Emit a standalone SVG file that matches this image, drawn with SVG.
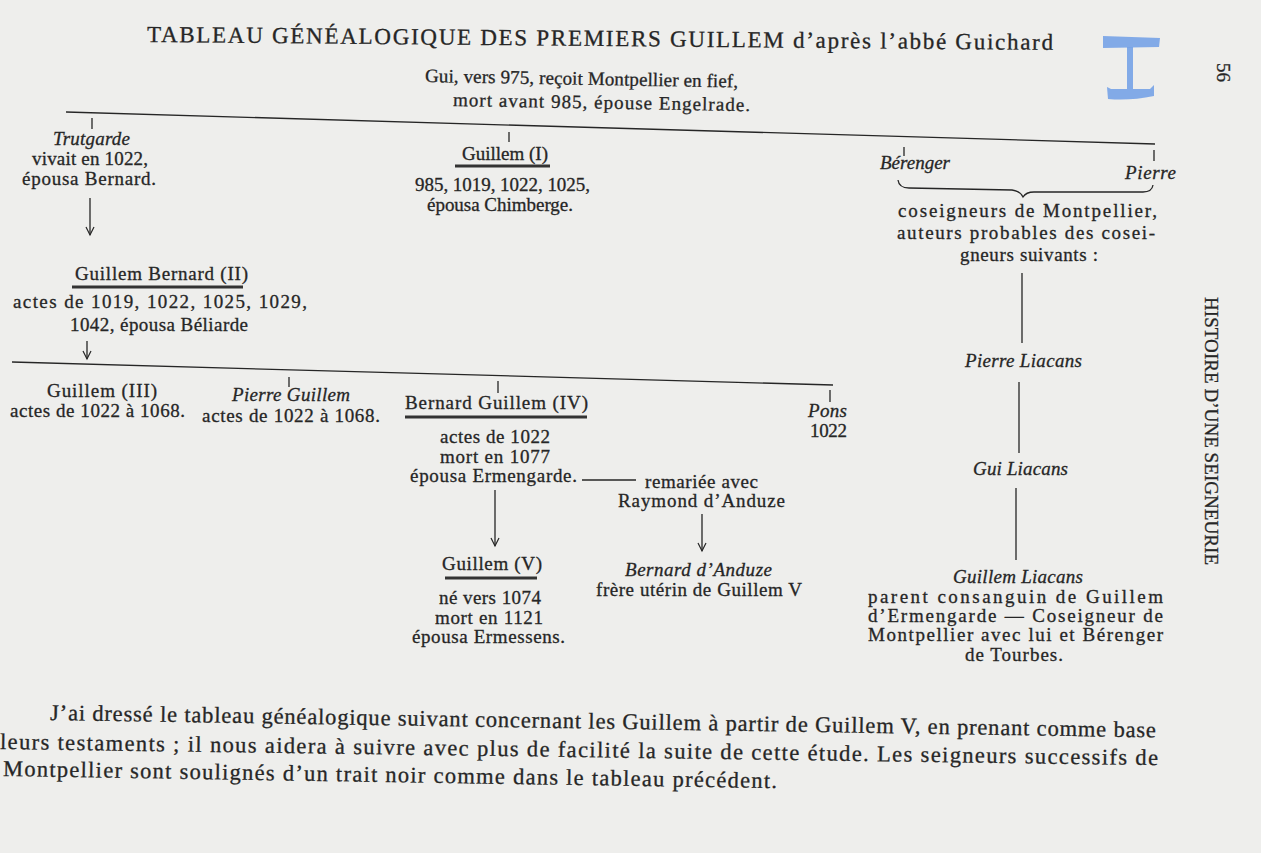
<svg xmlns="http://www.w3.org/2000/svg" width="1261" height="853" viewBox="0 0 1261 853">
<defs>
<style>
.t{font-family:"Liberation Serif","Times New Roman",serif;font-size:19px;fill:#262626;stroke:#262626;stroke-width:0.3}
.i{font-style:italic}
.p{font-size:22.5px}
.ttl{font-size:23px}
.ln{stroke:#262626;stroke-width:1.3;fill:none}
.ul{stroke:#333;stroke-width:3;fill:none}
.blue{fill:#6f9ee6;opacity:0.85}
</style>
<marker id="ah" markerUnits="userSpaceOnUse" markerWidth="12" markerHeight="12" refX="0" refY="0" orient="auto" overflow="visible">
<path d="M-8,-4 L0,0 L-8,4" fill="none" stroke="#262626" stroke-width="1.2"/>
</marker>
</defs>
<rect width="1261" height="853" fill="#eeeeec"/>

<g id="title">
<text class="t ttl" x="147" y="42" textLength="906" lengthAdjust="spacing" transform="rotate(0.5 147 42)">TABLEAU GÉNÉALOGIQUE DES PREMIERS GUILLEM d’après l’abbé Guichard</text>
</g>
<g id="mark">
<path class="blue" d="M1103,36 L1160,38 L1159,47 L1103,48 Z"/>
<path class="blue" d="M1127,47 L1133,47 L1133,89 L1127,89 Z"/>
<path class="blue" d="M1107,87 L1111,89 L1150,89 L1154,85 L1154,96 Q1130,101 1108,99 Z"/>
</g>
<g id="pagehead">
<text class="t" x="63" y="-1217" font-size="23" transform="rotate(90)">56</text>
<text class="t" x="297" y="-1205" font-size="16" textLength="268" lengthAdjust="spacing" transform="rotate(90)">HISTOIRE D’UNE SEIGNEURIE</text>
</g>

<g id="gui">
<text class="t" x="425" y="82" textLength="313" lengthAdjust="spacing" transform="rotate(1 425 82)">Gui, vers 975, reçoit Montpellier en fief,</text>
<text class="t" x="453" y="106" textLength="297" lengthAdjust="spacing" transform="rotate(1 453 106)">mort avant 985, épouse Engelrade.</text>
</g>

<g id="trutgarde">
<text class="t i" x="53" y="145" textLength="77" lengthAdjust="spacing">Trutgarde</text>
<text class="t" x="32" y="165" textLength="116" lengthAdjust="spacing">vivait en 1022,</text>
<text class="t" x="22" y="185" textLength="134" lengthAdjust="spacing">épousa Bernard.</text>
</g>

<g id="guillem1">
<text class="t" x="462" y="160" textLength="86" lengthAdjust="spacing">Guillem (I)</text>
<line class="ul" x1="455" y1="166" x2="550" y2="166"/>
<text class="t" x="415" y="191" textLength="175" lengthAdjust="spacing">985, 1019, 1022, 1025,</text>
<text class="t" x="427" y="211" textLength="146" lengthAdjust="spacing">épousa Chimberge.</text>
</g>

<g id="berenger">
<text class="t i" x="880" y="169" textLength="70" lengthAdjust="spacing">Bérenger</text>
</g>
<g id="pierre">
<text class="t i" x="1125" y="179" textLength="51" lengthAdjust="spacing">Pierre</text>
</g>
<g id="coseigneurs">
<text class="t" x="898" y="217" textLength="259" lengthAdjust="spacing">coseigneurs de Montpellier,</text>
<text class="t" x="897" y="239" textLength="258" lengthAdjust="spacing">auteurs probables des cosei-</text>
<text class="t" x="960" y="261" textLength="138" lengthAdjust="spacing">gneurs suivants :</text>
</g>

<g id="guillem2">
<text class="t" x="75" y="280" textLength="173" lengthAdjust="spacing">Guillem Bernard (II)</text>
<line class="ul" x1="72" y1="287" x2="243" y2="287"/>
<text class="t" x="13" y="308" textLength="294" lengthAdjust="spacing">actes de 1019, 1022, 1025, 1029,</text>
<text class="t" x="70" y="331" textLength="178" lengthAdjust="spacing">1042, épousa Béliarde</text>
</g>

<g id="guillem3">
<text class="t" x="47" y="397" textLength="110" lengthAdjust="spacing">Guillem (III)</text>
<text class="t" x="10" y="417" textLength="175" lengthAdjust="spacing">actes de 1022 à 1068.</text>
</g>
<g id="pierreguillem">
<text class="t i" x="232" y="401" textLength="118" lengthAdjust="spacing">Pierre Guillem</text>
<text class="t" x="202" y="422" textLength="178" lengthAdjust="spacing">actes de 1022 à 1068.</text>
</g>
<g id="guillem4">
<text class="t" x="405" y="409" textLength="183" lengthAdjust="spacing">Bernard Guillem (IV)</text>
<line class="ul" x1="405" y1="417" x2="587" y2="417"/>
<text class="t" x="440" y="443" textLength="110" lengthAdjust="spacing">actes de 1022</text>
<text class="t" x="440" y="463" textLength="110" lengthAdjust="spacing">mort en 1077</text>
<text class="t" x="410" y="482" textLength="167" lengthAdjust="spacing">épousa Ermengarde.</text>
</g>
<g id="pons">
<text class="t i" x="808" y="417" textLength="39" lengthAdjust="spacing">Pons</text>
<text class="t" x="810" y="437" textLength="37" lengthAdjust="spacing">1022</text>
</g>
<g id="raymond">
<text class="t" x="645" y="488" textLength="113" lengthAdjust="spacing">remariée avec</text>
<text class="t" x="618" y="507" textLength="167" lengthAdjust="spacing">Raymond d’Anduze</text>
</g>
<g id="guillem5">
<text class="t" x="442" y="570" textLength="100" lengthAdjust="spacing">Guillem (V)</text>
<line class="ul" x1="445" y1="578" x2="537" y2="578"/>
<text class="t" x="439" y="604" textLength="102" lengthAdjust="spacing">né vers 1074</text>
<text class="t" x="435" y="624" textLength="108" lengthAdjust="spacing">mort en 1121</text>
<text class="t" x="412" y="643" textLength="153" lengthAdjust="spacing">épousa Ermessens.</text>
</g>
<g id="bernardanduze">
<text class="t i" x="625" y="576" textLength="147" lengthAdjust="spacing">Bernard d’Anduze</text>
<text class="t" x="596" y="596" textLength="206" lengthAdjust="spacing">frère utérin de Guillem V</text>
</g>

<g id="pierreliacans">
<text class="t i" x="965" y="367" textLength="117" lengthAdjust="spacing">Pierre Liacans</text>
</g>
<g id="guiliacans">
<text class="t i" x="973" y="475" textLength="95" lengthAdjust="spacing">Gui Liacans</text>
</g>
<g id="guillemliacans">
<text class="t i" x="953" y="583" textLength="130" lengthAdjust="spacing">Guillem Liacans</text>
<text class="t" x="868" y="603" textLength="295" lengthAdjust="spacing">parent consanguin de Guillem</text>
<text class="t" x="868" y="622" textLength="295" lengthAdjust="spacing">d’Ermengarde — Coseigneur de</text>
<text class="t" x="868" y="641" textLength="295" lengthAdjust="spacing">Montpellier avec lui et Bérenger</text>
<text class="t" x="965" y="661" textLength="98" lengthAdjust="spacing">de Tourbes.</text>
</g>

<g id="connectors">
<line class="ln" x1="66" y1="112" x2="1155" y2="144"/>
<line class="ln" x1="92" y1="118" x2="92" y2="129"/>
<line class="ln" x1="509" y1="132" x2="509" y2="142"/>
<line class="ln" x1="904" y1="147" x2="904" y2="156"/>
<line class="ln" x1="1154" y1="150" x2="1154" y2="161"/>
<line class="ln" x1="90" y1="198" x2="90" y2="235" marker-end="url(#ah)"/>
<path class="ln" d="M898,180 Q899,188 909,188 L1012,190 Q1020,191 1023,197 Q1026,192 1034,192 L1143,192 Q1152,192 1153,185"/>
<line class="ln" x1="87" y1="341" x2="87" y2="359" marker-end="url(#ah)"/>
<line class="ln" x1="12" y1="362" x2="833" y2="385"/>
<line class="ln" x1="289" y1="377" x2="289" y2="387"/>
<line class="ln" x1="498" y1="381" x2="498" y2="393"/>
<line class="ln" x1="830" y1="390" x2="830" y2="402"/>
<line class="ln" x1="582" y1="480" x2="636" y2="480"/>
<line class="ln" x1="495" y1="490" x2="495" y2="546" marker-end="url(#ah)"/>
<line class="ln" x1="702" y1="514" x2="702" y2="551" marker-end="url(#ah)"/>
<line class="ln" x1="1022" y1="273" x2="1022" y2="343"/>
<line class="ln" x1="1019" y1="382" x2="1019" y2="453"/>
<line class="ln" x1="1016" y1="488" x2="1016" y2="560"/>
</g>

<g id="paragraph">
<text class="t p" x="50" y="720" textLength="1106" lengthAdjust="spacing" transform="rotate(0.9 50 720)">J’ai dressé le tableau généalogique suivant concernant les Guillem à partir de Guillem V, en prenant comme base</text>
<text class="t p" x="0" y="749" textLength="1158" lengthAdjust="spacing" transform="rotate(0.8 0 749)">leurs testaments ; il nous aidera à suivre avec plus de facilité la suite de cette étude. Les seigneurs successifs de</text>
<text class="t p" x="3" y="776" textLength="774" lengthAdjust="spacing" transform="rotate(0.9 3 776)">Montpellier sont soulignés d’un trait noir comme dans le tableau précédent.</text>
</g>
</svg>
